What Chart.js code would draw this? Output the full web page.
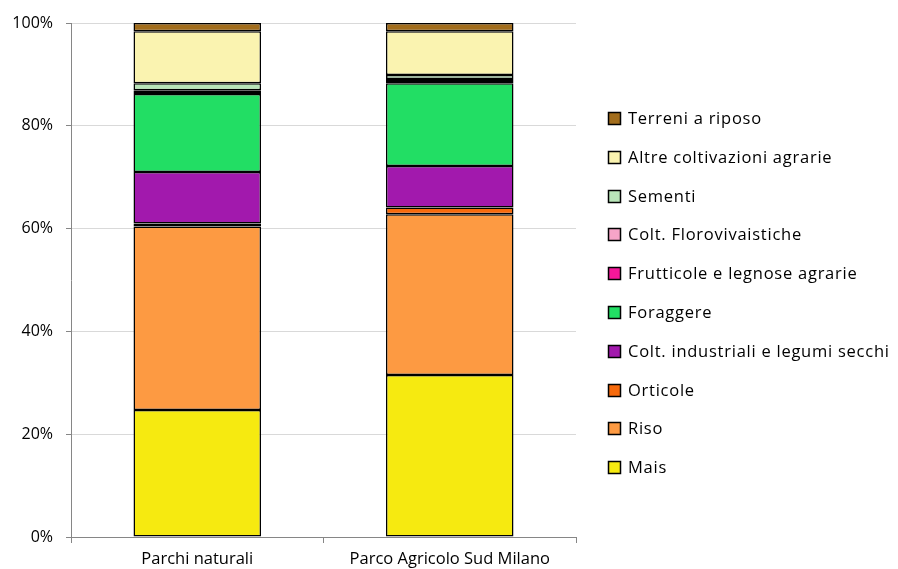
<!DOCTYPE html>
<html>
<head>
<meta charset="utf-8">
<script src="https://cdn.jsdelivr.net/npm/chart.js@4"></script>
<style>
  html, body { margin: 0; padding: 0; background: #fff; }
  #wrap { width: 898px; height: 569px; }
</style>
</head>
<body>
<div id="wrap"><canvas id="usoSuolo" width="898" height="569"></canvas></div>
<script>
// Ripartizione della SAU per tipo di coltura (%)
const areas = ['Parchi naturali', 'Parco Agricolo Sud Milano'];
const yTicks = [0, 20, 40, 60, 80, 100];

const crops = [
  'Mais', 'Riso', 'Orticole', 'Colt. industriali e legumi secchi', 'Foraggere',
  'Frutticole e legnose agrarie', 'Colt. Florovivaistiche', 'Sementi',
  'Altre coltivazioni agrarie', 'Terreni a riposo'
];
const parchiNaturali = [24.7, 35.7, 0.6, 10.0, 15.2, 0.4, 0.3, 1.4, 10.1, 1.6];
const parcoSudMilano = [31.5, 31.3, 1.3, 8.1, 16.1, 0.4, 0.4, 0.8, 8.5, 1.6];
const cropColors = [
  '#f6ea10', '#fd9a42', '#f76a0c', '#a219ad', '#22de64',
  '#f5179a', '#f7a4c8', '#b9e6b9', '#faf3b0', '#a26d1c'
];

const FONT = '"Open Sans", "Noto Sans", sans-serif';

const datasets = crops.map((name, i) => ({
  label: name,
  data: [parchiNaturali[i], parcoSudMilano[i]],
  backgroundColor: cropColors[i],
  borderColor: '#000',
  borderWidth: 1.5,
  borderSkipped: false,
  categoryPercentage: 0.505,
  barPercentage: 1.0
}));

// legenda disegnata a mano sulla destra, in ordine inverso
const sideLegend = {
  id: 'sideLegend',
  afterDraw(chart) {
    const ctx = chart.ctx;
    const sets = chart.data.datasets.slice().reverse();
    ctx.save();
    ctx.font = '16.5px ' + FONT;
    ctx.letterSpacing = '0.75px';
    ctx.textBaseline = 'middle';
    ctx.textAlign = 'left';
    sets.forEach((ds, k) => {
      const y = Math.round(119 + k * 38.8);
      ctx.fillStyle = ds.backgroundColor;
      ctx.fillRect(608.5, y - 6.5, 12, 12);
      ctx.strokeStyle = '#000';
      ctx.lineWidth = 1.5;
      ctx.strokeRect(608.5, y - 6.5, 12, 12);
      ctx.fillStyle = '#000';
      ctx.fillText(ds.label, 628, y);
    });
    ctx.restore();
  }
};

new Chart(document.getElementById('usoSuolo'), {
  type: 'bar',
  data: { labels: areas, datasets },
  options: {
    responsive: false,
    animation: false,
    layout: { padding: { top: 23, right: 322, left: 0, bottom: 0 } },
    plugins: {
      legend: { display: false },
      tooltip: { enabled: false }
    },
    scales: {
      x: {
        stacked: true,
        afterFit(scale) { scale.height = 32; },
        grid: {
          drawOnChartArea: false,
          color: '#868686',
          tickLength: 6,
          offset: true
        },
        border: { color: '#868686', width: 1 },
        ticks: {
          color: '#000',
          padding: 6,
          font: { family: FONT, size: 16.5 }
        }
      },
      y: {
        stacked: true,
        min: 0,
        max: 100,
        afterFit(scale) { scale.width = 71; },
        afterBuildTicks(scale) { scale.ticks = yTicks.map(v => ({ value: v })); },
        grid: {
          color: '#d9d9d9',
          tickColor: '#868686',
          tickLength: 5
        },
        border: { color: '#868686', width: 1 },
        ticks: {
          color: '#000',
          padding: 13,
          font: { family: FONT, size: 16 },
          callback: v => v + '%'
        }
      }
    }
  },
  plugins: [sideLegend]
});
</script>
</body>
</html>
